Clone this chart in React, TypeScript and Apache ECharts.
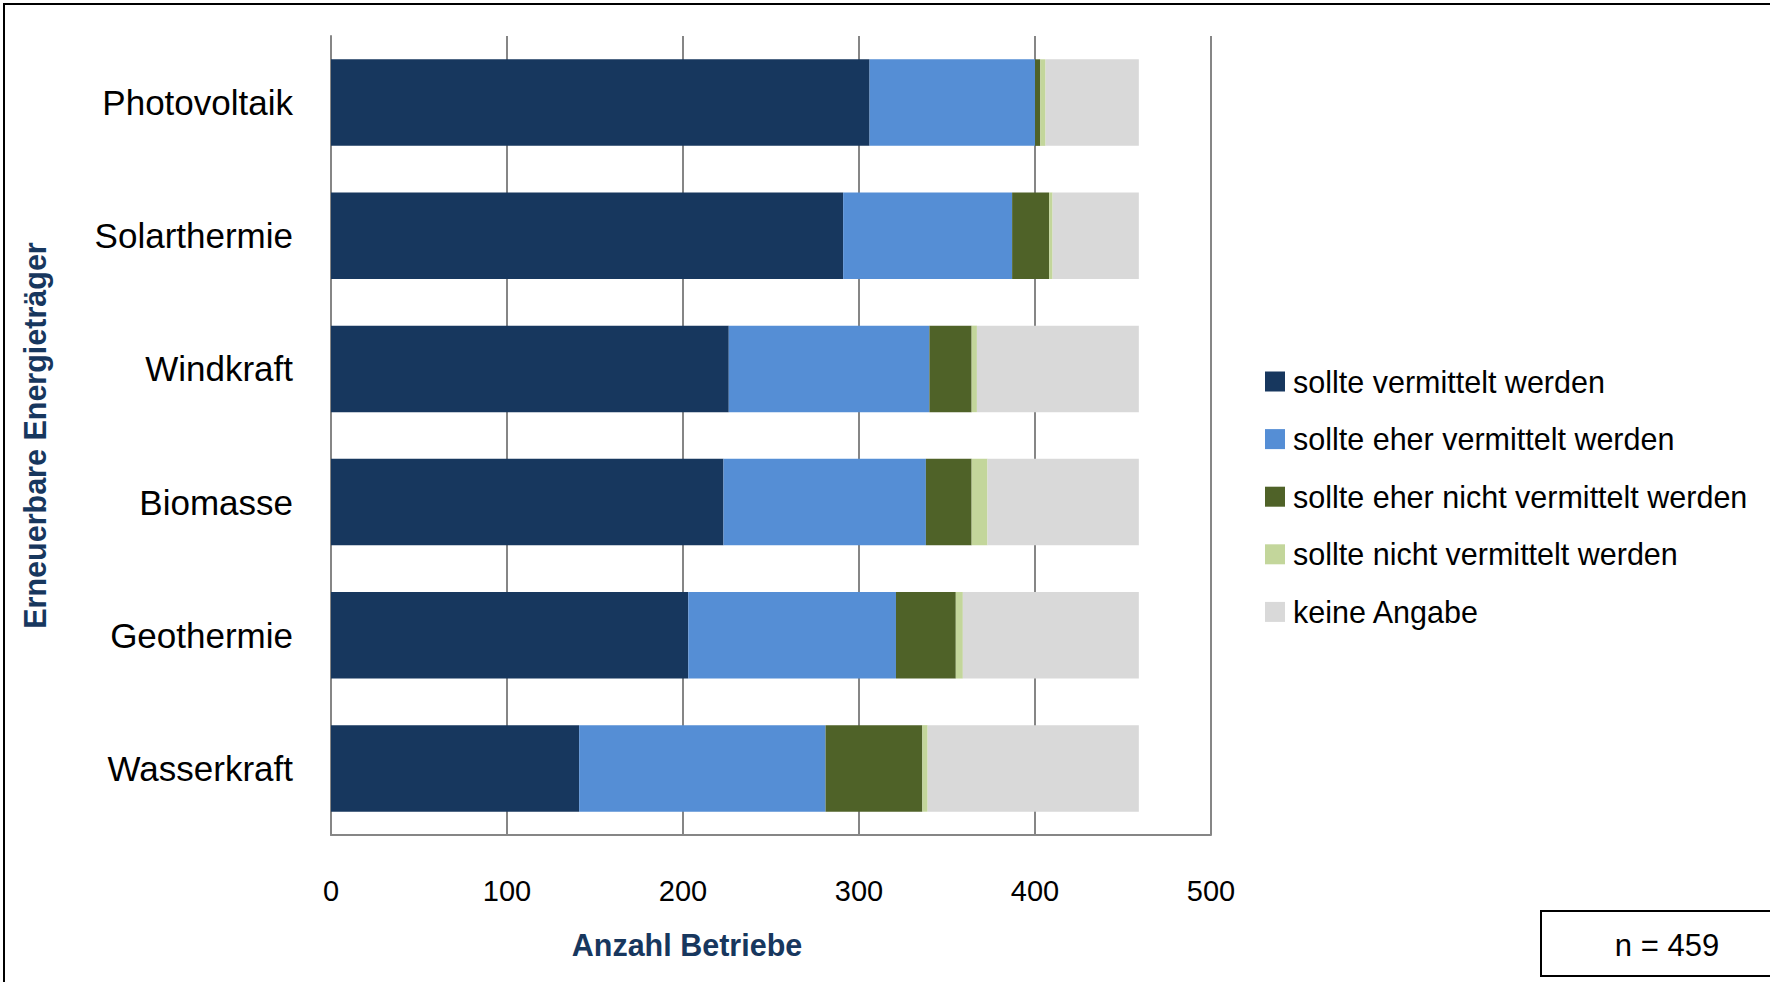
import React, { useEffect, useRef } from "react";
import * as echarts from "echarts";

const categories = ["Photovoltaik", "Solarthermie", "Windkraft", "Biomasse", "Geothermie", "Wasserkraft"];
const seriesNames = [
  "sollte vermittelt werden",
  "sollte eher vermittelt werden",
  "sollte eher nicht vermittelt werden",
  "sollte nicht vermittelt werden",
  "keine Angabe",
];
const sollteVermittelt = [306, 291, 226, 223, 203, 141];
const eherVermittelt = [94, 96, 114, 115, 118, 140];
const eherNichtVermittelt = [3, 21, 24, 26, 34, 55];
const nichtVermittelt = [3, 2, 3, 9, 4, 3];
const keineAngabe = [53, 49, 92, 86, 100, 120];
const xTicks = { min: 0, max: 500, interval: 100 };
const colors = ["#17375E", "#558ED5", "#4F6228", "#C3D69B", "#D9D9D9"];
const xAxisTitle = "Anzahl Betriebe";
const yAxisTitle = "Erneuerbare Energieträger";
const sampleNote = "n = 459";

const REG = "'Liberation Sans', Arial, sans-serif";

export default function App() {
  const ref = useRef<HTMLDivElement>(null);
  useEffect(() => {
    if (!ref.current) return;
    const chart = echarts.init(ref.current, undefined, { renderer: "svg" });
    const values = [sollteVermittelt, eherVermittelt, eherNichtVermittelt, nichtVermittelt, keineAngabe];
    chart.setOption({
      animation: false,
      backgroundColor: "#ffffff",
      color: colors,
      grid: { left: 331, right: 559, top: 36, bottom: 147, containLabel: false },
      legend: {
        orient: "vertical",
        left: 1260,
        top: 361,
        itemWidth: 20,
        itemHeight: 20,
        itemGap: 26.6,
        icon: "rect",
        data: seriesNames,
        textStyle: { fontFamily: REG, fontSize: 30.5, color: "#000", lineHeight: 30, padding: [0, 0, 0, 3] },
      },
      xAxis: {
        type: "value",
        min: xTicks.min,
        max: xTicks.max,
        interval: xTicks.interval,
        axisLine: { show: true, lineStyle: { color: "#868686", width: 2 } },
        axisTick: { show: false },
        splitLine: { show: true, lineStyle: { color: "#868686", width: 2 } },
        axisLabel: { margin: 41, fontFamily: REG, fontSize: 29, color: "#000" },
      },
      yAxis: {
        type: "category",
        inverse: true,
        data: categories,
        axisLine: { show: true, lineStyle: { color: "#868686", width: 2 } },
        axisTick: { show: false },
        axisLabel: { margin: 38, fontFamily: REG, fontSize: 35, color: "#000" },
        name: yAxisTitle,
        nameLocation: "middle",
        nameGap: 281,
        nameTextStyle: { fontFamily: REG, fontSize: 30.5, fontWeight: "bold", color: "#17375E" },
      },
      series: seriesNames.map((name, i) => ({
        name,
        type: "bar",
        stack: "total",
        data: values[i],
        barCategoryGap: "35%",
        itemStyle: { color: colors[i] },
        emphasis: { disabled: true },
      })),
      graphic: [
        {
          type: "rect",
          shape: { x: 4, y: 4, width: 1800, height: 1200 },
          style: { fill: "none", stroke: "#000", lineWidth: 2 },
          silent: true,
        },
        {
          type: "rect",
          shape: { x: 1541, y: 911, width: 400, height: 65 },
          style: { fill: "#fff", stroke: "#000", lineWidth: 2 },
        },
        {
          type: "text",
          x: 1667,
          y: 945,
          style: {
            text: sampleNote,
            fontFamily: REG,
            fontSize: 31,
            fill: "#000",
            align: "center",
            verticalAlign: "middle",
          },
        },
        {
          type: "text",
          x: 687,
          y: 945,
          style: {
            text: xAxisTitle,
            fontFamily: REG,
            fontSize: 30.5,
            fontWeight: "bold",
            fill: "#17375E",
            align: "center",
            verticalAlign: "middle",
          },
        },
      ],
    });
    return () => chart.dispose();
  }, []);
  return (
    <div
      ref={ref}
      style={{ position: "fixed", left: 0, top: 0, width: 1770, height: 982, background: "#fff" }}
    />
  );
}
